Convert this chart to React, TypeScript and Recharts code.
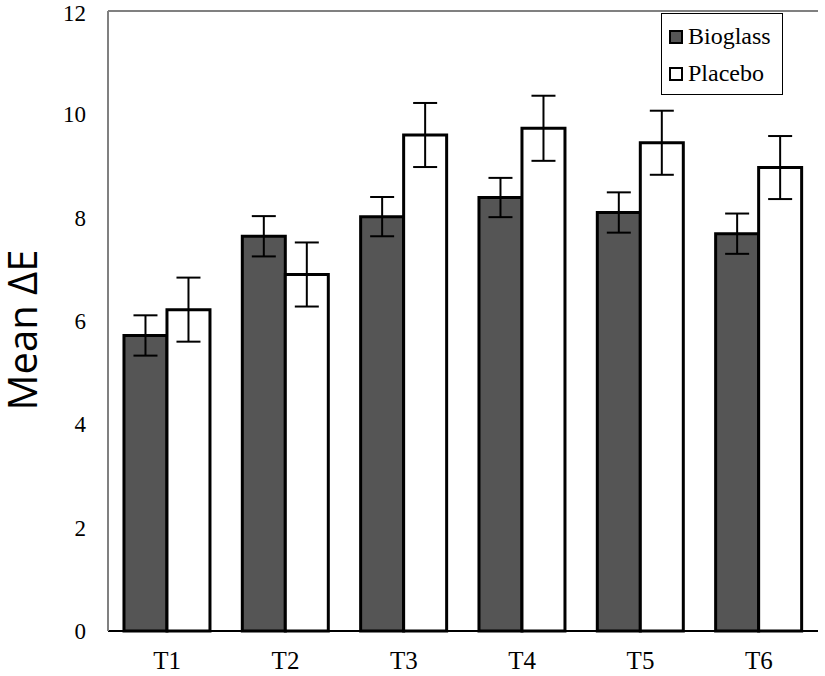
import {
  BarChart,
  Bar,
  XAxis,
  YAxis,
  ErrorBar,
  Legend,
  ReferenceLine,
} from 'recharts';

// values
const timepoints = ['T1', 'T2', 'T3', 'T4', 'T5', 'T6'];
const bioglassMean = [5.72, 7.64, 8.02, 8.39, 8.1, 7.69];
const bioglassErr = [0.39, 0.39, 0.38, 0.38, 0.39, 0.39];
const placeboMean = [6.22, 6.9, 9.6, 9.73, 9.45, 8.97];
const placeboErr = [0.62, 0.62, 0.62, 0.63, 0.62, 0.61];
const yTicks = [0, 2, 4, 6, 8, 10, 12];

const DARK = '#555555';
const FRAME = '#808080';
const SERIF = '"Liberation Serif", "Times New Roman", serif';

const chartData = timepoints.map((t, i) => ({
  name: t,
  bioglass: bioglassMean[i],
  bioglassErr: bioglassErr[i],
  placebo: placeboMean[i],
  placeboErr: placeboErr[i],
}));

function LegendBox() {
  const items = [
    { label: 'Bioglass', fill: DARK },
    { label: 'Placebo', fill: '#ffffff' },
  ];
  return (
    <div
      style={{
        width: 122,
        height: 82,
        boxSizing: 'border-box',
        border: '1.5px solid #000',
        background: '#fff',
        fontFamily: SERIF,
        fontSize: 24,
        color: '#000',
        paddingTop: 4,
      }}
    >
      {items.map((it) => (
        <div key={it.label} style={{ display: 'flex', alignItems: 'center', height: 37, paddingLeft: 7 }}>
          <span
            style={{
              display: 'inline-block',
              width: 10,
              height: 10,
              border: '2px solid #000',
              background: it.fill,
              marginRight: 5,
            }}
          />
          <span>{it.label}</span>
        </div>
      ))}
    </div>
  );
}

// y-axis title, a little below the plot's middle as in the reference
const AxisTitle = (props: any) => {
  const vb = props.viewBox || {};
  const cy = (vb.y ?? 11) + (vb.height ?? 620) / 2 + 9;
  return (
    <text
      x={0}
      y={0}
      transform={`translate(37, ${cy}) rotate(-90)`}
      textAnchor="middle"
      style={{ fontFamily: '"Open Sans", sans-serif', fontSize: 40, fill: '#000' }}
    >
      Mean ΔE
    </text>
  );
};

export default function App() {
  return (
    <div style={{ position: 'absolute', left: 0, top: 0, width: 825, height: 676, background: '#fff' }}>
      <BarChart
        width={825}
        height={676}
        data={chartData}
        margin={{ top: 11, right: 7, bottom: 0, left: 0 }}
        barCategoryGap="13.5%"
        barGap={0}
      >
        <XAxis
          dataKey="name"
          axisLine={{ stroke: '#000', strokeWidth: 2 }}
          tickLine={false}
          tickSize={0}
          tickMargin={20}
          height={45}
          tick={{ fill: '#000', fontSize: 25, fontFamily: SERIF }}
        />
        <YAxis
          domain={[0, 12]}
          ticks={yTicks}
          width={108}
          axisLine={{ stroke: FRAME, strokeWidth: 2 }}
          tickLine={false}
          tickSize={0}
          tickMargin={22}
          tick={{ fill: '#000', fontSize: 23, fontFamily: SERIF }}
          label={{ content: AxisTitle }}
        />
        <YAxis
          yAxisId="right"
          orientation="right"
          domain={[0, 12]}
          width={0}
          tick={false}
          tickLine={false}
          axisLine={{ stroke: FRAME, strokeWidth: 2 }}
        />
        <ReferenceLine y={12} stroke={FRAME} strokeWidth={2} />
        <Legend
          layout="vertical"
          verticalAlign="middle"
          align="center"
          wrapperStyle={{ left: 661, top: 13, width: 122, height: 82 }}
          content={() => <LegendBox />}
        />
        <Bar dataKey="bioglass" name="Bioglass" fill={DARK} stroke="#000" strokeWidth={3} isAnimationActive={false}>
          <ErrorBar dataKey="bioglassErr" width={12} stroke="#000" strokeWidth={2} />
        </Bar>
        <Bar dataKey="placebo" name="Placebo" fill="#ffffff" stroke="#000" strokeWidth={3} isAnimationActive={false}>
          <ErrorBar dataKey="placeboErr" width={12} stroke="#000" strokeWidth={2} />
        </Bar>
      </BarChart>
    </div>
  );
}
